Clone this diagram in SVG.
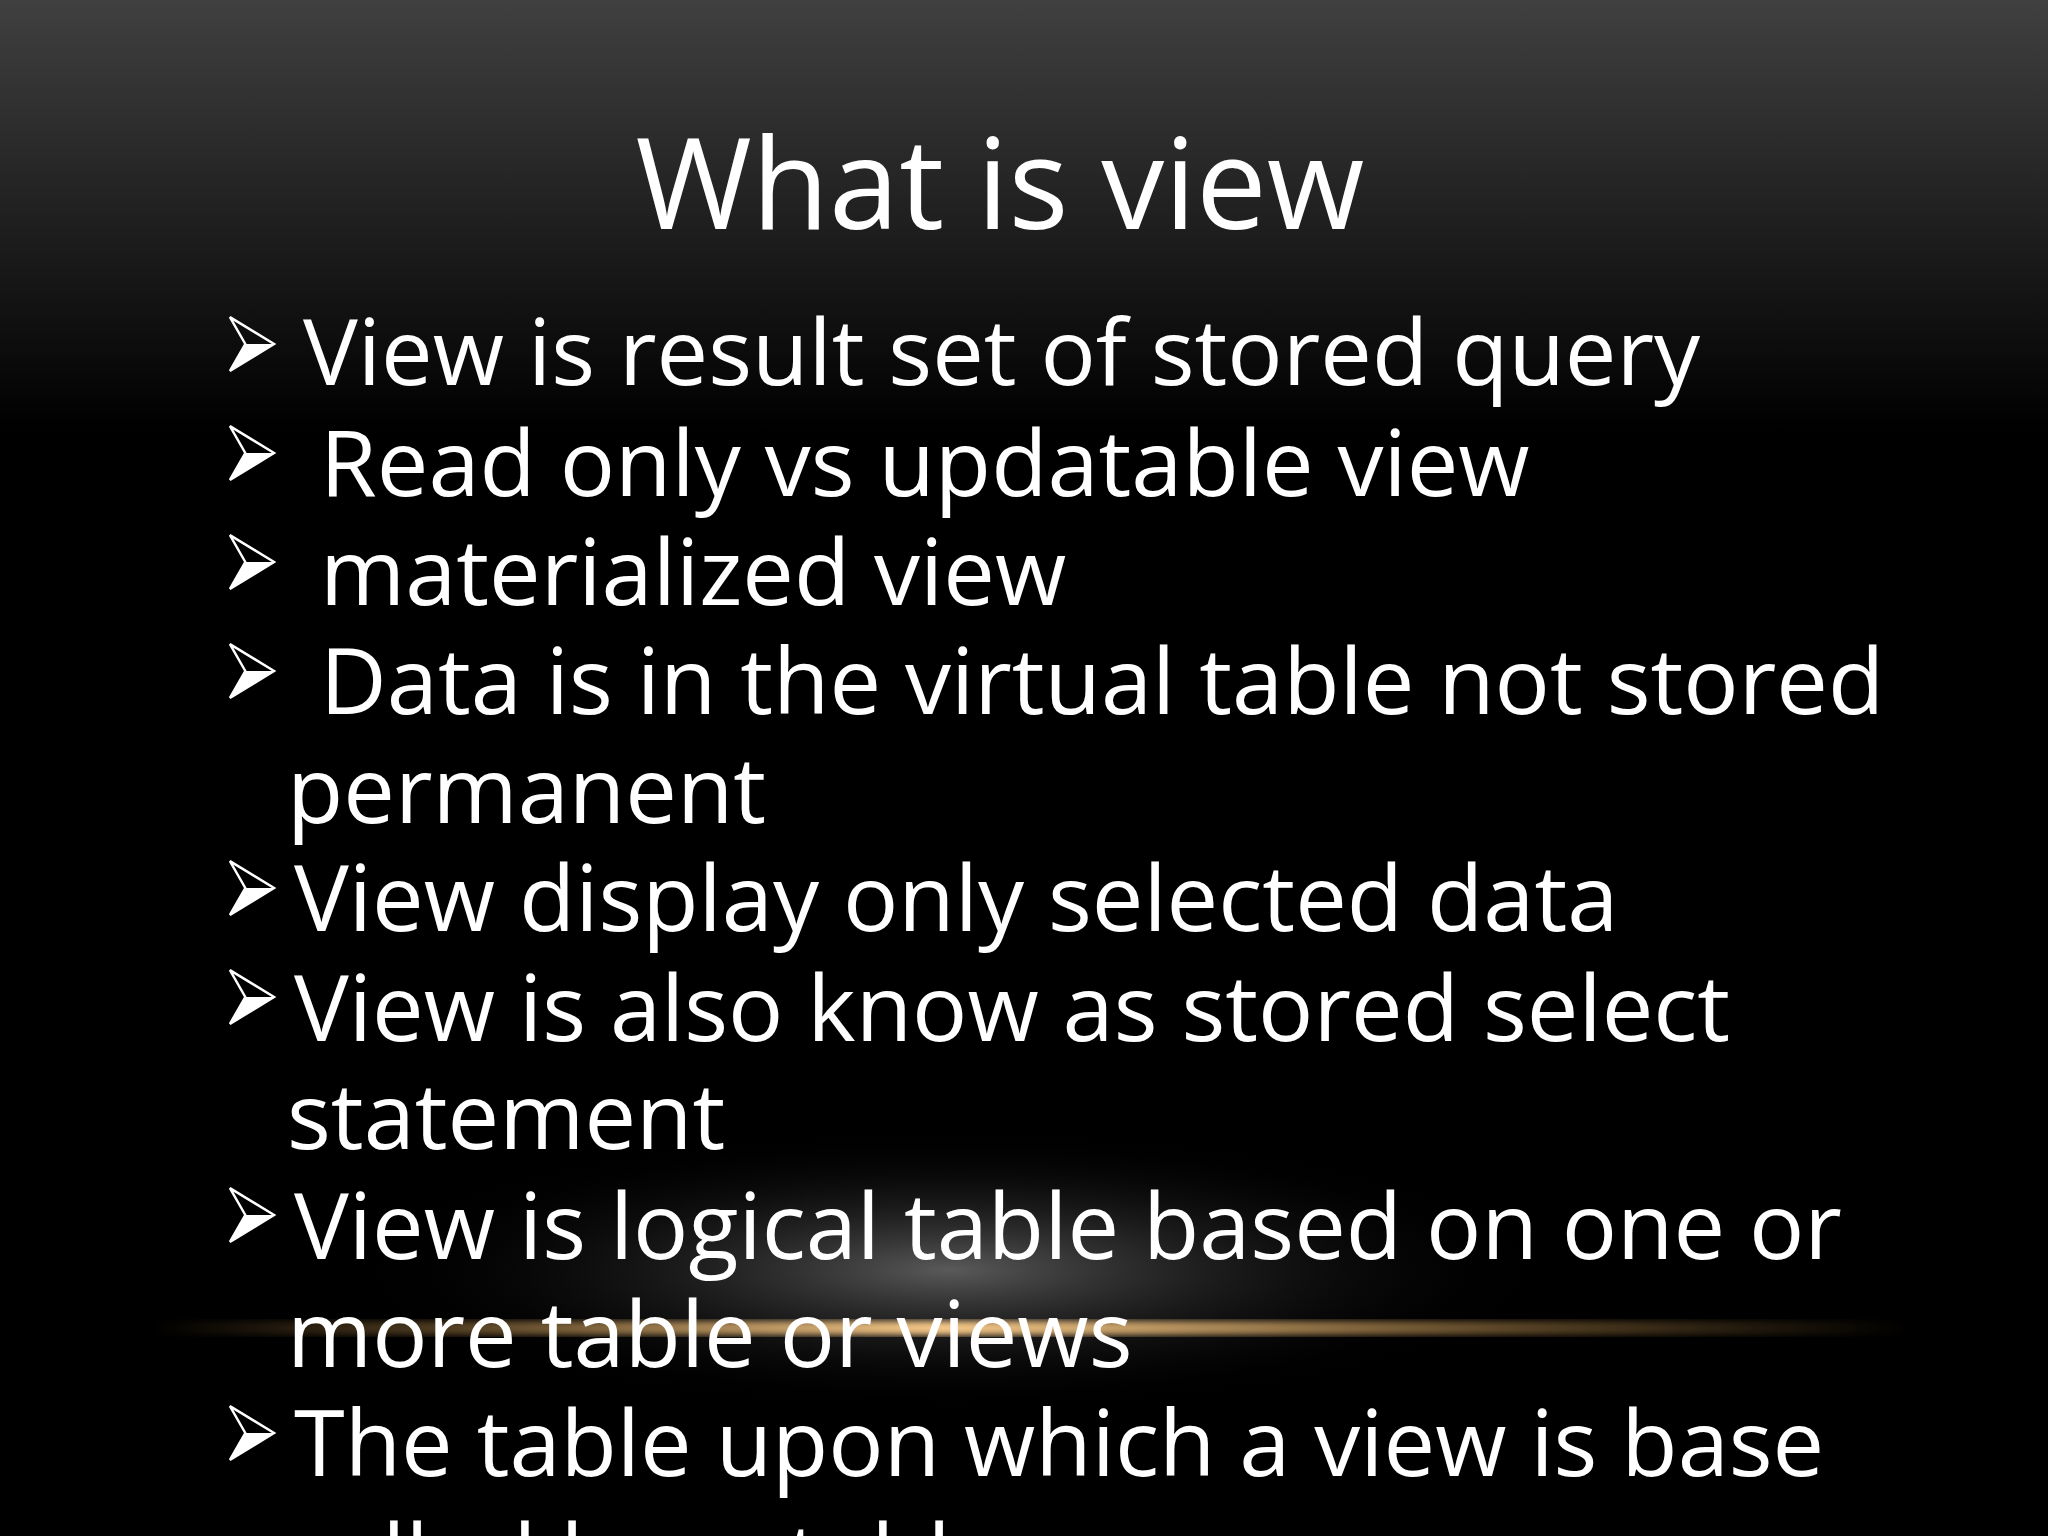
<svg xmlns="http://www.w3.org/2000/svg" width="2048" height="1536" viewBox="0 0 2048 1536">
<defs>
<linearGradient id="bg" x1="0" y1="0" x2="0" y2="1"><stop offset="0" stop-color="#404040"/><stop offset="0.28" stop-color="#000"/><stop offset="1" stop-color="#000"/></linearGradient>
<radialGradient id="glow" cx="0.5" cy="0.5" r="0.5"><stop offset="0" stop-color="#5a5a5a"/><stop offset="1" stop-color="#000" stop-opacity="0"/></radialGradient>
<linearGradient id="gold" x1="0" y1="0" x2="1" y2="0"><stop offset="0" stop-color="#c89040" stop-opacity="0"/><stop offset="0.45" stop-color="#f5c888"/><stop offset="1" stop-color="#c89040" stop-opacity="0"/></linearGradient>
<filter id="blur"><feGaussianBlur stdDeviation="3"/></filter>
<symbol id="arr" viewBox="0 0 50 60" overflow="visible"><polygon points="2,2 48,30 2,58 18,30" fill="none" stroke="#fff" stroke-width="2.5"/><polygon points="48,30 2,58 18,30" fill="#fff"/></symbol>
<style>text{font-family:"Open Sans","Noto Sans",sans-serif;fill:#fff}.b{font-size:92px}</style>
</defs>
<rect width="2048" height="1536" fill="url(#bg)"/>
<ellipse cx="950" cy="1270" rx="600" ry="140" fill="url(#glow)"/>
<rect x="150" y="1321" width="1760" height="14" fill="url(#gold)" filter="url(#blur)"/>
<text x="1000" y="229" text-anchor="middle" font-size="126">What is view</text>
<g id="bullets">
<use href="#arr" x="228" y="314" width="48" height="60"/>
<use href="#arr" x="228" y="423" width="48" height="60"/>
<use href="#arr" x="228" y="532" width="48" height="60"/>
<use href="#arr" x="228" y="641" width="48" height="60"/>
<use href="#arr" x="228" y="858" width="48" height="60"/>
<use href="#arr" x="228" y="967" width="48" height="60"/>
<use href="#arr" x="228" y="1185" width="48" height="60"/>
<use href="#arr" x="228" y="1403" width="48" height="60"/>
</g>
<g id="text">
<text class="b" x="303" y="385">View is result set of stored query</text>
<text class="b" x="320" y="496">Read only vs updatable view</text>
<text class="b" x="320" y="605">materialized view</text>
<text class="b" x="320" y="714">Data is in the virtual table not stored</text>
<text class="b" x="287" y="823">permanent</text>
<text class="b" x="294" y="931">View display only selected data</text>
<text class="b" x="294" y="1041">View is also know as stored select</text>
<text class="b" x="287" y="1149">statement</text>
<text class="b" x="294" y="1259">View is logical table based on one or</text>
<text class="b" x="287" y="1367">more table or views</text>
<text class="b" x="294" y="1476">The table upon which a view is base</text>
<text class="b" x="287" y="1590">called base table</text>
</g>
</svg>
